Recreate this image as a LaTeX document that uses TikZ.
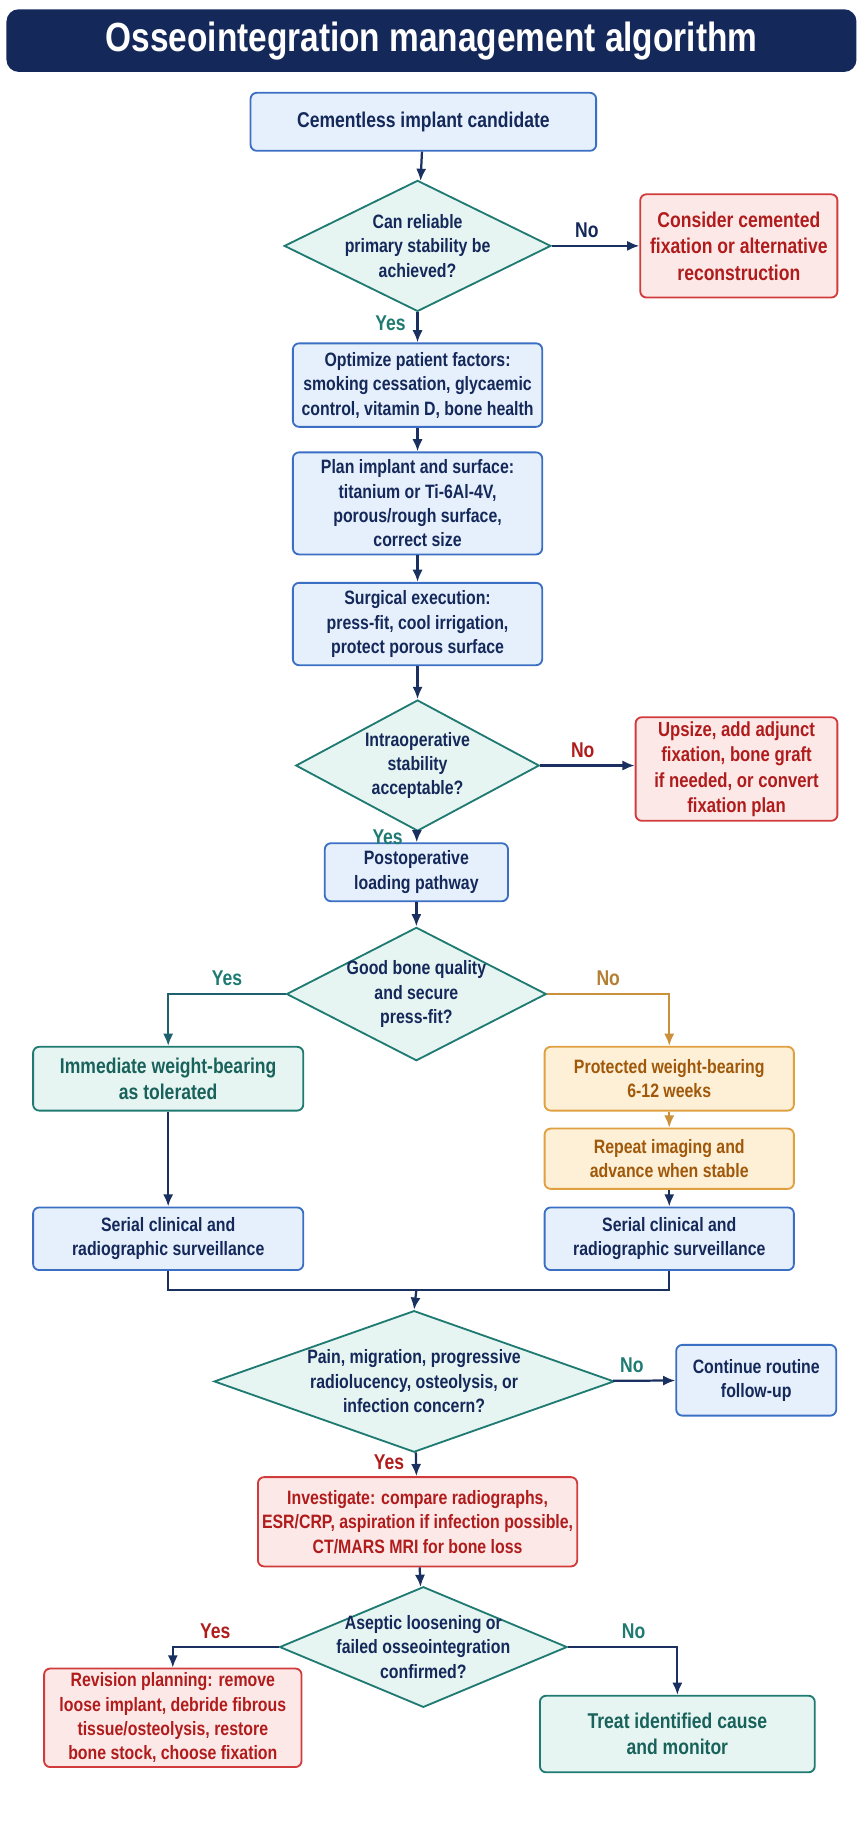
\documentclass[tikz,border=0pt]{standalone}
\usepackage{fontspec}
\setmainfont{Liberation Sans}[FakeStretch=0.82]
\usetikzlibrary{shapes.geometric,arrows.meta}
\definecolor{navy}{HTML}{14285A}
\definecolor{arrowc}{HTML}{1A3060}
\definecolor{bluef}{HTML}{E6F0FC}
\definecolor{blued}{HTML}{3B6FC4}
\definecolor{tealf}{HTML}{E6F5F2}
\definecolor{teald}{HTML}{1F7A72}
\definecolor{redf}{HTML}{FDE8E8}
\definecolor{redd}{HTML}{D23B3B}
\definecolor{redt}{HTML}{B01C1C}
\definecolor{orf}{HTML}{FDF0D6}
\definecolor{ord}{HTML}{E0A040}
\definecolor{ort}{HTML}{A0580A}
\tikzset{
  box/.style={draw=blued, fill=bluef, rounded corners=3pt, line width=0.9pt, align=center,
    text=navy, font=\fontsize{9.5}{12}\selectfont\bfseries, inner sep=2pt},
  redbox/.style={box, draw=redd, fill=redf, text=redt, font=\fontsize{10.5}{13}\selectfont\bfseries},
  tealbox/.style={box, draw=teald, fill=tealf, text=teald!80!black, font=\fontsize{10.5}{13}\selectfont\bfseries},
  orbox/.style={box, draw=ord, fill=orf, text=ort},
  dec/.style={diamond, draw=teald, fill=tealf, line width=0.9pt, inner sep=0pt},
  dtext/.style={align=center, text=navy, font=\fontsize{9.5}{12}\selectfont\bfseries},
  arr/.style={-{Latex[length=6pt,width=5pt]}, line width=1.1pt, draw=arrowc},
  yes/.style={font=\fontsize{10.5}{12}\selectfont\bfseries, text=teald},
  no/.style={font=\fontsize{10.5}{12}\selectfont\bfseries, text=navy},
}
\begin{document}
\begin{tikzpicture}[x=0.02cm, y=-0.02cm]
\useasboundingbox (0,0) rectangle (745,1570);
% title
\node[fill=navy, rounded corners=6pt, minimum width=14.66cm, minimum height=1.08cm, text=white,
  font=\fontsize{20}{24}\selectfont\bfseries] (title) at (372,35) {Osseointegration management algorithm};

\node[box, minimum width=5.96cm, minimum height=1cm, font=\fontsize{10.5}{13}\selectfont\bfseries] (start) at (365,105) {Cementless implant candidate};
\node[dec, minimum width=4.6cm, minimum height=2.26cm] (d1) at (360,212) {};
\node[dtext] at (d1) {Can reliable\\primary stability be\\achieved?};
\node[redbox, minimum width=3.4cm, minimum height=1.78cm] (alt) at (637,212) {Consider cemented\\fixation or alternative\\reconstruction};
\node[box, minimum width=4.3cm, minimum height=1.44cm] (pat) at (360,332) {Optimize patient factors:\\smoking cessation, glycaemic\\control, vitamin D, bone health};
\node[box, minimum width=4.3cm, minimum height=1.76cm] (plan) at (360,434) {Plan implant and surface:\\titanium or Ti-6Al-4V,\\porous/rough surface,\\correct size};
\node[box, minimum width=4.3cm, minimum height=1.42cm] (surg) at (360,538) {Surgical execution:\\press-fit, cool irrigation,\\protect porous surface};
\node[dec, minimum width=4.2cm, minimum height=2.26cm] (d2) at (360,660) {};
\node[dtext] at (d2) {Intraoperative\\stability\\acceptable?};
\node[redbox, minimum width=3.48cm, minimum height=1.66cm, font=\fontsize{10}{12.5}\selectfont\bfseries] (ups) at (635,663) {Upsize, add adjunct\\fixation, bone graft\\if needed, or convert\\fixation plan};
\node[box, minimum width=3.16cm, minimum height=1cm] (post) at (359,752) {Postoperative\\loading pathway};
\node[dec, minimum width=4.48cm, minimum height=2.3cm] (d3) at (359,857) {};
\node[dtext] at (d3) {Good bone quality\\and secure\\press-fit?};
\node[tealbox, minimum width=4.66cm, minimum height=1.1cm] (imm) at (145,930) {Immediate weight-bearing\\as tolerated};
\node[orbox, minimum width=4.3cm, minimum height=1.1cm] (prot) at (577,930) {Protected weight-bearing\\6-12 weeks};
\node[orbox, minimum width=4.3cm, minimum height=1.04cm] (rep) at (577,999) {Repeat imaging and\\advance when stable};
\node[box, minimum width=4.66cm, minimum height=1.08cm] (survl) at (145,1068) {Serial clinical and\\radiographic surveillance};
\node[box, minimum width=4.3cm, minimum height=1.08cm] (survr) at (577,1068) {Serial clinical and\\radiographic surveillance};
\coordinate (merge) at (359,1112);
\node[dec, minimum width=6.9cm, minimum height=2.44cm] (d4) at (357,1191) {};
\node[dtext] at (d4) {Pain, migration, progressive\\radiolucency, osteolysis, or\\infection concern?};
\node[box, minimum width=2.76cm, minimum height=1.22cm] (cont) at (652,1190) {Continue routine\\follow-up};
\node[redbox, minimum width=5.1cm, minimum height=1.54cm, font=\fontsize{9.5}{12}\selectfont\bfseries] (inv) at (360,1312) {Investigate: compare radiographs,\\ESR/CRP, aspiration if infection possible,\\CT/MARS MRI for bone loss};
\node[dec, minimum width=4.96cm, minimum height=2.08cm] (d5) at (365,1420) {};
\node[dtext] at (d5) {Aseptic loosening or\\failed osseointegration\\confirmed?};
\node[redbox, minimum width=4.44cm, minimum height=1.44cm, font=\fontsize{9.5}{12}\selectfont\bfseries] (rev) at (149,1481) {Revision planning: remove\\loose implant, debride fibrous\\tissue/osteolysis, restore\\bone stock, choose fixation};
\node[tealbox, minimum width=4.74cm, minimum height=1.32cm] (treat) at (584,1495) {Treat identified cause\\and monitor};

\draw[arr] (start) -- (d1);
\draw[arr] (d1) -- node[no, above, pos=0.4] {No} (alt);
\draw[arr] (d1) -- node[yes, left=2pt, pos=0.35] {Yes} (pat);
\draw[arr] (pat) -- (plan);
\draw[arr] (plan) -- (surg);
\draw[arr] (surg) -- (d2);
\draw[arr] (d2.east) -- node[no, text=redt, above, pos=0.45] {No} (d2.east -| ups.west);
\draw[arr] (d2) -- node[yes, left=3pt, pos=0.5] {Yes} (post);
\draw[arr] (post) -- (d3);
\draw[arr, draw=teald!70!navy] (d3.west) -| node[yes, above, pos=0.25] {Yes} (imm.north);
\draw[arr, draw=ord!90!black] (d3.east) -| node[no, text=ord!80!black, above, pos=0.25] {No} (prot.north);
\draw[arr] (imm) -- (survl);
\draw[arr, draw=ord!90!black] (prot) -- (rep);
\draw[arr] (rep) -- (survr);
\draw[line width=1.1pt, draw=arrowc] (survl.south) |- (merge) -| (survr.south);
\draw[arr] (merge) -- (d4.north);
\draw[arr] (d4) -- node[no, text=teald, above, pos=0.3] {No} (cont);
\draw[arr] (d4) -- node[yes, text=redt, left=2pt, pos=0.4] {Yes} (inv);
\draw[arr] (inv) -- (d5);
\draw[arr] (d5.west) -| node[yes, text=redt, above, pos=0.3] {Yes} (rev.north);
\draw[arr] (d5.east) -| node[no, text=teald, above, pos=0.3] {No} (treat.north);
\end{tikzpicture}
\end{document}
